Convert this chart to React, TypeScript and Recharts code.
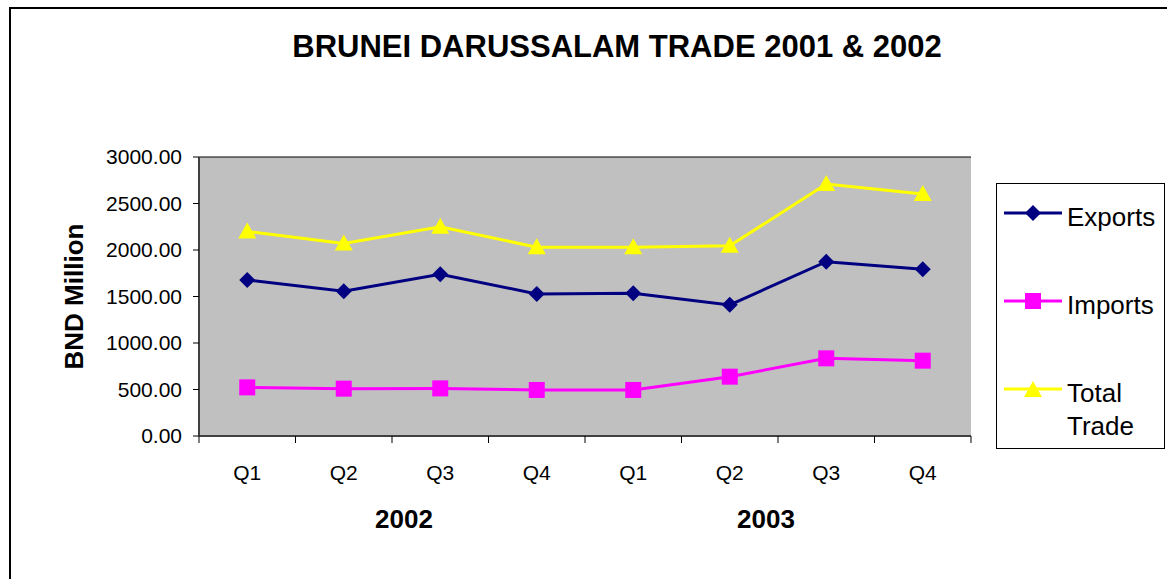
import React from 'react';
import { LineChart, Line, XAxis, YAxis, CartesianGrid } from 'recharts';

const years = ['2002', '2003'];
const quarters = ['Q1', 'Q2', 'Q3', 'Q4'];
const exportsVals = [1677, 1556, 1740, 1528, 1534, 1410, 1874, 1792];
const importsVals = [523, 509, 512, 495, 495, 638, 835, 810];
const totalVals = [2200, 2070, 2250, 2030, 2030, 2045, 2709, 2602];
const yTicks = [0, 500, 1000, 1500, 2000, 2500, 3000];

const TITLE = 'BRUNEI DARUSSALAM TRADE 2001 & 2002';
const Y_LABEL = 'BND Million';
const FONT = '"Liberation Sans", Arial, Helvetica, sans-serif';

const data = years.flatMap((y) =>
  quarters.map((q) => ({ key: `${y} ${q}`, quarter: q, year: y }))
).map((d, i) => ({ ...d, exports: exportsVals[i], imports: importsVals[i], total: totalVals[i] }));

const series = [
  { key: 'exports', name: 'Exports', color: '#000080', shape: 'diamond' },
  { key: 'imports', name: 'Imports', color: '#FF00FF', shape: 'square' },
  { key: 'total', name: 'Total Trade', color: '#FFFF00', shape: 'triangle' },
];

function Marker({ cx, cy, shape, color }: any) {
  if (cx == null || cy == null) return null;
  if (shape === 'diamond') {
    return <path d={`M${cx},${cy - 8}L${cx + 8},${cy}L${cx},${cy + 8}L${cx - 8},${cy}Z`} fill={color} />;
  }
  if (shape === 'square') {
    return <rect x={cx - 8} y={cy - 8} width={16} height={16} fill={color} />;
  }
  return <path d={`M${cx},${cy - 9}L${cx + 9},${cy + 7}L${cx - 9},${cy + 7}Z`} fill={color} />;
}

function QuarterTick(props: any) {
  const { x, y, payload, index } = props;
  const half = payload && payload.offset ? payload.offset : 48.25;
  return (
    <g>
      <line x1={x - half} y1={y} x2={x - half} y2={y + 7} stroke="#000" strokeWidth={1} />
      {index === data.length - 1 && (
        <line x1={x + half} y1={y} x2={x + half} y2={y + 7} stroke="#000" strokeWidth={1} />
      )}
      <text x={x} y={y + 44} textAnchor="middle" fontSize={21} fontFamily={FONT} fill="#000">
        {data[index] ? data[index].quarter : payload.value}
      </text>
    </g>
  );
}

// Year label drawn at the boundary in the middle of each year's group of quarters
function YearTick(props: any) {
  const { x, y, payload, index } = props;
  const half = payload && payload.offset ? payload.offset : 48.25;
  const pos = index % quarters.length;
  if (pos !== quarters.length / 2 - 1) return <g />;
  const groupIdx = Math.floor(index / quarters.length);
  const shift = groupIdx === 0 ? 12 : -12;
  return (
    <text x={x + half + shift} y={y + 42} textAnchor="middle" fontSize={26} fontWeight="bold" fontFamily={FONT} fill="#000">
      {years[groupIdx]}
    </text>
  );
}

function YLabel(props: any) {
  const vb = props.viewBox || { x: 0, y: 157, width: 199, height: 279 };
  const cx = vb.x + 83;
  const cy = vb.y + vb.height / 2;
  return (
    <text x={cx} y={cy} transform={`rotate(-90, ${cx}, ${cy})`} textAnchor="middle" fontSize={26} fontWeight="bold" fontFamily={FONT} fill="#000">
      {Y_LABEL}
    </text>
  );
}

function LegendIcon({ shape, color }: any) {
  return (
    <svg width={58} height={20} style={{ display: 'block' }}>
      <line x1={0} y1={10} x2={58} y2={10} stroke={color} strokeWidth={3} />
      <Marker cx={29} cy={shape === 'triangle' ? 11 : 10} shape={shape} color={color} />
    </svg>
  );
}

export default function App() {
  const rowTops = [10, 98, 186];
  return (
    <div style={{ position: 'absolute', left: 0, top: 0, width: 1167, height: 579, overflow: 'hidden', background: '#fff', fontFamily: FONT }}>
      <div style={{ position: 'absolute', left: 9, top: 7, width: 1200, height: 620, border: '2px solid #000', boxSizing: 'border-box' }} />
      <div style={{ position: 'absolute', left: 0, top: 29, width: 1234, textAlign: 'center', fontSize: 31, fontWeight: 'bold', color: '#000', whiteSpace: 'nowrap' }}>
        {TITLE}
      </div>
      <div style={{ position: 'absolute', left: 0, top: 0 }}>
        <LineChart width={1167} height={579} data={data} margin={{ top: 157, right: 196, left: 0, bottom: 0 }}>
          <CartesianGrid vertical={false} horizontal={true} stroke="#000" strokeWidth={1} fill="#C0C0C0" fillOpacity={1} />
          <XAxis
            dataKey="key"
            xAxisId="main"
            scale="band"
            height={50}
            tickLine={false}
            tickSize={0}
            tickMargin={0}
            axisLine={{ stroke: '#404040', strokeWidth: 2 }}
            tick={<QuarterTick />}
            interval={0}
          />
          <XAxis
            dataKey="key"
            xAxisId="year"
            scale="band"
            height={93}
            tickLine={false}
            axisLine={false}
            tickSize={0}
            tickMargin={0}
            tick={<YearTick />}
            interval={0}
          />
          <XAxis xAxisId="top" orientation="top" dataKey="key" height={0} tick={false} tickLine={false} axisLine={{ stroke: '#808080', strokeWidth: 2 }} />
          <YAxis
            yAxisId="left"
            width={199}
            domain={[0, 3000]}
            ticks={yTicks}
            tickFormatter={(v: number) => v.toFixed(2)}
            tickSize={6}
            tickMargin={11}
            tickLine={{ stroke: '#000' }}
            axisLine={{ stroke: '#404040', strokeWidth: 2 }}
            tick={{ fontSize: 21, fill: '#000', fontFamily: FONT }}
            label={<YLabel />}
          />
          <YAxis yAxisId="right" orientation="right" width={0} domain={[0, 3000]} tick={false} tickLine={false} axisLine={{ stroke: '#808080', strokeWidth: 2 }} />
          {series.map((s) => (
            <Line
              key={s.key}
              xAxisId="main"
              yAxisId="left"
              type="linear"
              dataKey={s.key}
              name={s.name}
              stroke={s.color}
              strokeWidth={3}
              isAnimationActive={false}
              dot={(p: any) => <Marker key={`${s.key}-${p.index}`} cx={p.cx} cy={p.cy} shape={s.shape} color={s.color} />}
              activeDot={false}
            />
          ))}
        </LineChart>
      </div>
      <div style={{ position: 'absolute', left: 996, top: 183, width: 169, height: 266, border: '1px solid #000', boxSizing: 'border-box', background: '#fff' }}>
        {series.map((s, i) => (
          <div key={s.key} style={{ position: 'absolute', left: 7, top: rowTops[i], display: 'flex', alignItems: 'flex-start' }}>
            <div style={{ marginTop: 9 }}>
              <LegendIcon shape={s.shape} color={s.color} />
            </div>
            <div style={{ marginLeft: 5, marginTop: 7, fontSize: 26, lineHeight: '33px', color: '#000', width: 95 }}>
              {s.name.split(' ').map((w, j) => (
                <div key={j}>{w}</div>
              ))}
            </div>
          </div>
        ))}
      </div>
    </div>
  );
}
